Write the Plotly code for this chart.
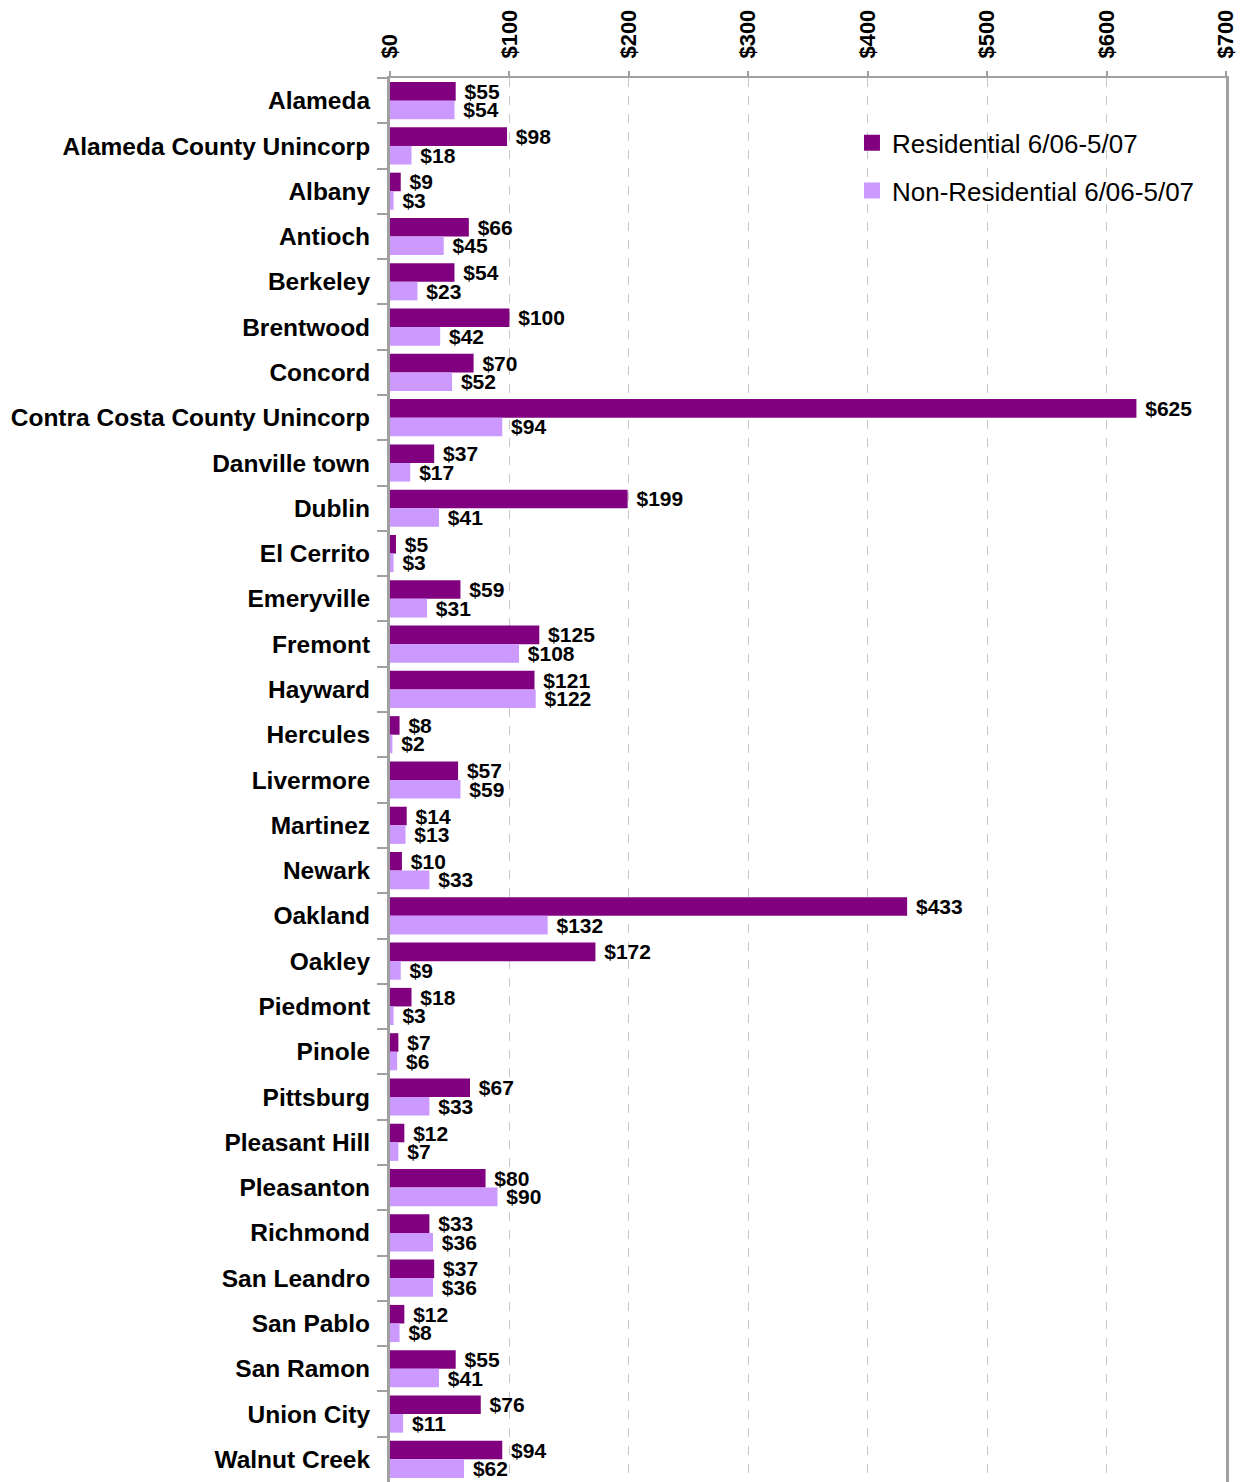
import plotly.graph_objects as go

cities = ["Alameda", "Alameda County Unincorp", "Albany", "Antioch", "Berkeley", "Brentwood",
          "Concord", "Contra Costa County Unincorp", "Danville town", "Dublin", "El Cerrito",
          "Emeryville", "Fremont", "Hayward", "Hercules", "Livermore", "Martinez", "Newark",
          "Oakland", "Oakley", "Piedmont", "Pinole", "Pittsburg", "Pleasant Hill", "Pleasanton",
          "Richmond", "San Leandro", "San Pablo", "San Ramon", "Union City", "Walnut Creek"]
residential = [55, 98, 9, 66, 54, 100, 70, 625, 37, 199, 5, 59, 125, 121, 8, 57, 14, 10,
               433, 172, 18, 7, 67, 12, 80, 33, 37, 12, 55, 76, 94]
non_residential = [54, 18, 3, 45, 23, 42, 52, 94, 17, 41, 3, 31, 108, 122, 2, 59, 13, 33,
                   132, 9, 3, 6, 33, 7, 90, 36, 36, 8, 41, 11, 62]
series_names = ["Residential 6/06-5/07", "Non-Residential 6/06-5/07"]
series_colors = ["#800080", "#CC99FF"]
x_ticks = [0, 100, 200, 300, 400, 500, 600, 700]

FONT = "Liberation Sans, Arial, sans-serif"
label_font = dict(family=FONT, size=21, color="black", weight="bold")

fig = go.Figure()
for name, vals, color, grp in [(series_names[0], residential, series_colors[0], "a"),
                               (series_names[1], non_residential, series_colors[1], "b")]:
    fig.add_trace(go.Bar(
        y=cities, x=vals, name=name, orientation="h",
        marker=dict(color=color, line=dict(width=0)),
        text=[f" ${v}" for v in vals], textposition="outside",
        textfont=label_font, constraintext="none", cliponaxis=False,
        legendgroup=grp, showlegend=False,
    ))
# legend entries with larger square swatches
for name, color, grp in [(series_names[0], series_colors[0], "a"),
                         (series_names[1], series_colors[1], "b")]:
    fig.add_trace(go.Scatter(
        x=[None], y=[None], mode="markers", name=name, legendgroup=grp,
        marker=dict(symbol="square", size=16, color=color, line=dict(width=0)),
        showlegend=True,
    ))

fig.update_layout(
    width=1248, height=1482,
    margin=dict(l=390, r=22, t=78, b=0),
    paper_bgcolor="white", plot_bgcolor="white",
    barmode="group", bargap=0.18, bargroupgap=0,
    font=dict(family=FONT, color="black"),
    legend=dict(x=0.5526, y=0.9705, xanchor="left", yanchor="top",
                font=dict(family=FONT, size=26, color="black"),
                traceorder="grouped", tracegroupgap=11,
                bgcolor="rgba(0,0,0,0)", itemsizing="trace"),
    xaxis=dict(
        side="top", range=[0, 700], tickmode="array", tickvals=x_ticks,
        ticktext=[f"${v}" for v in x_ticks], tickangle=-90,
        tickfont=dict(family=FONT, size=22, color="black", weight="bold"),
        showgrid=True, gridcolor="#c8c8c8", griddash="dash", gridwidth=1,
        showline=True, linecolor="#a0a0a0", linewidth=2,
        ticks="outside", ticklen=5, tickcolor="#a0a0a0", tickwidth=2,
        zeroline=False, fixedrange=True, ticklabelstandoff=8,
    ),
    yaxis=dict(
        autorange="reversed", type="category",
        tickfont=dict(family=FONT, size=24.5, color="black", weight="bold"),
        showline=True, linecolor="#a0a0a0", linewidth=3, mirror=True,
        ticks="outside", tickson="boundaries", ticklen=10, tickcolor="#a0a0a0", tickwidth=2,
        showgrid=False, ticklabelstandoff=12,
    ),
)

fig.write_html("out.html")
